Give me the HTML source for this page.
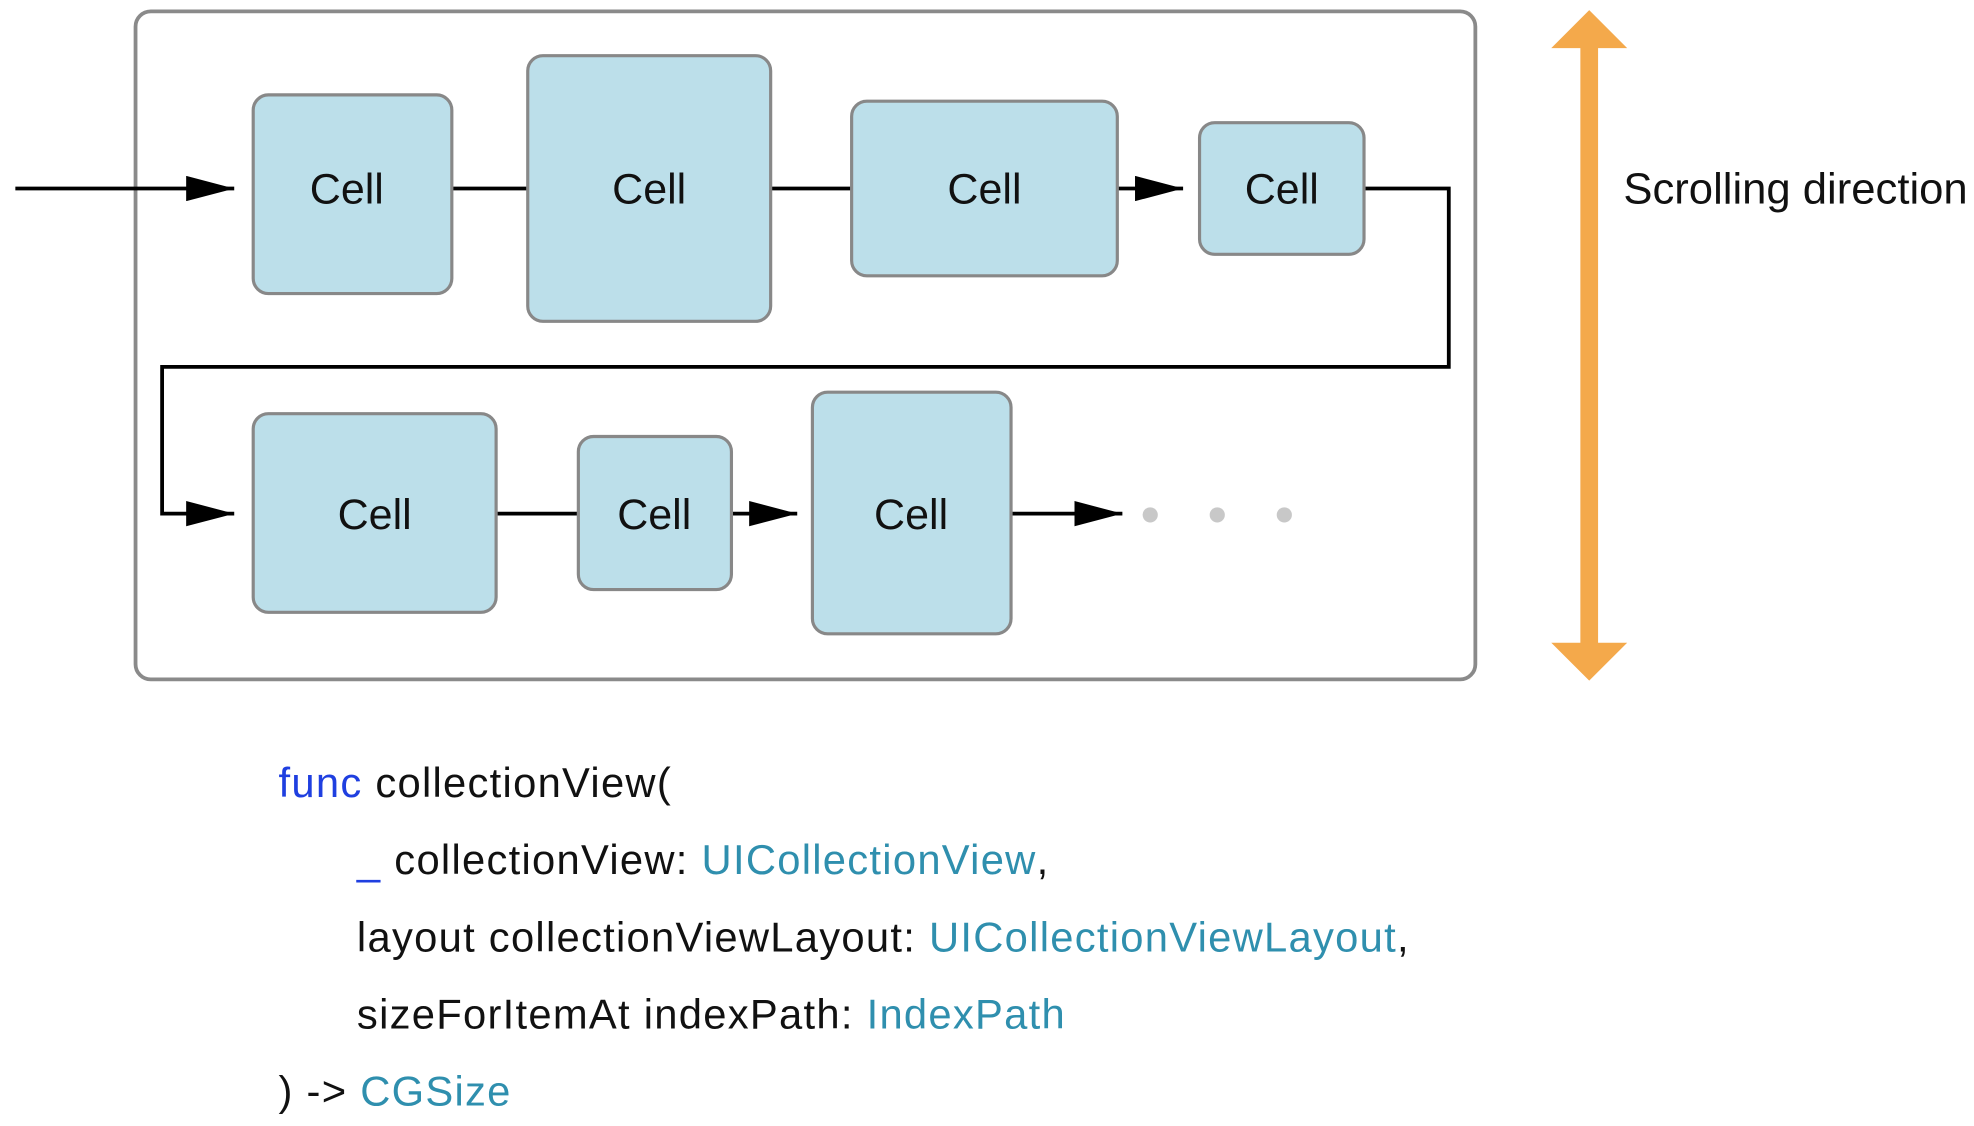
<!DOCTYPE html>
<html><head><meta charset="utf-8"><style>
html,body{margin:0;padding:0;background:#fff;width:1974px;height:1126px;overflow:hidden}
svg{display:block}
.c{font-family:"Liberation Sans",sans-serif;font-size:34px;fill:#111;text-anchor:middle}
.k{font-family:"Liberation Sans",sans-serif;font-size:33px;fill:#111;letter-spacing:1px}
.b{fill:#1f3fe0}.t{fill:#2f8fae}
</style></head><body>
<svg width="1974" height="1126" viewBox="0 0 1560 890" xmlns="http://www.w3.org/2000/svg">
<defs>
<marker id="ar" markerWidth="38" markerHeight="20" refX="38" refY="10" orient="auto" markerUnits="userSpaceOnUse"><path d="M0,0 L38,10 L0,20z" fill="#000"/></marker></defs>
<rect x="107" y="9" width="1059" height="528" rx="12" fill="#fff" stroke="#8a8a8a" stroke-width="3"/>
<g stroke="#000" stroke-width="3" fill="none">
<line x1="12" y1="149" x2="185" y2="149" marker-end="url(#ar)"/>
<line x1="357" y1="149" x2="417" y2="149"/>
<line x1="609" y1="149" x2="673" y2="149"/>
<line x1="883" y1="149" x2="935" y2="149" marker-end="url(#ar)"/>
<polyline points="1078,149 1145,149 1145,290 128,290 128,406 185,406" marker-end="url(#ar)"/>
<line x1="392" y1="406" x2="457" y2="406"/>
<line x1="578" y1="406" x2="630" y2="406" marker-end="url(#ar)"/>
<line x1="799" y1="406" x2="887" y2="406" marker-end="url(#ar)"/>
</g>
<g fill="#bcdfea" stroke="#888" stroke-width="2.5">
<rect x="200" y="75" width="157" height="157" rx="12"/>
<rect x="417" y="44" width="192" height="210" rx="12"/>
<rect x="673" y="80" width="210" height="138" rx="12"/>
<rect x="948" y="97" width="130" height="104" rx="12"/>
<rect x="200" y="327" width="192" height="157" rx="12"/>
<rect x="457" y="345" width="121" height="121" rx="12"/>
<rect x="642" y="310" width="157" height="191" rx="12"/>
</g>
<g class="c">
<text x="274" y="161">Cell</text><text x="513" y="161">Cell</text><text x="778" y="161">Cell</text><text x="1013" y="161">Cell</text>
<text x="296" y="418">Cell</text><text x="517" y="418">Cell</text><text x="720" y="418">Cell</text>
</g>
<g fill="#c8c8c8"><circle cx="909" cy="407" r="6"/><circle cx="962" cy="407" r="6"/><circle cx="1015" cy="407" r="6"/></g>
<path d="M1256,8 L1286,38 L1263,38 L1263,508 L1286,508 L1256,538 L1226,508 L1249,508 L1249,38 L1226,38z" fill="#f4a94b"/>
<text x="1283" y="161" font-family="Liberation Sans,sans-serif" font-size="34.5" fill="#111">Scrolling direction</text>
<text class="k" x="220" y="630"><tspan class="b">func</tspan> collectionView(</text>
<text class="k" x="282" y="691"><tspan class="b">_</tspan> collectionView: <tspan class="t">UICollectionView</tspan>,</text>
<text class="k" x="282" y="752">layout collectionViewLayout: <tspan class="t">UICollectionViewLayout</tspan>,</text>
<text class="k" x="282" y="813">sizeForItemAt indexPath: <tspan class="t">IndexPath</tspan></text>
<text class="k" x="220" y="874">) -&gt; <tspan class="t">CGSize</tspan></text>
</svg>
</body></html>
